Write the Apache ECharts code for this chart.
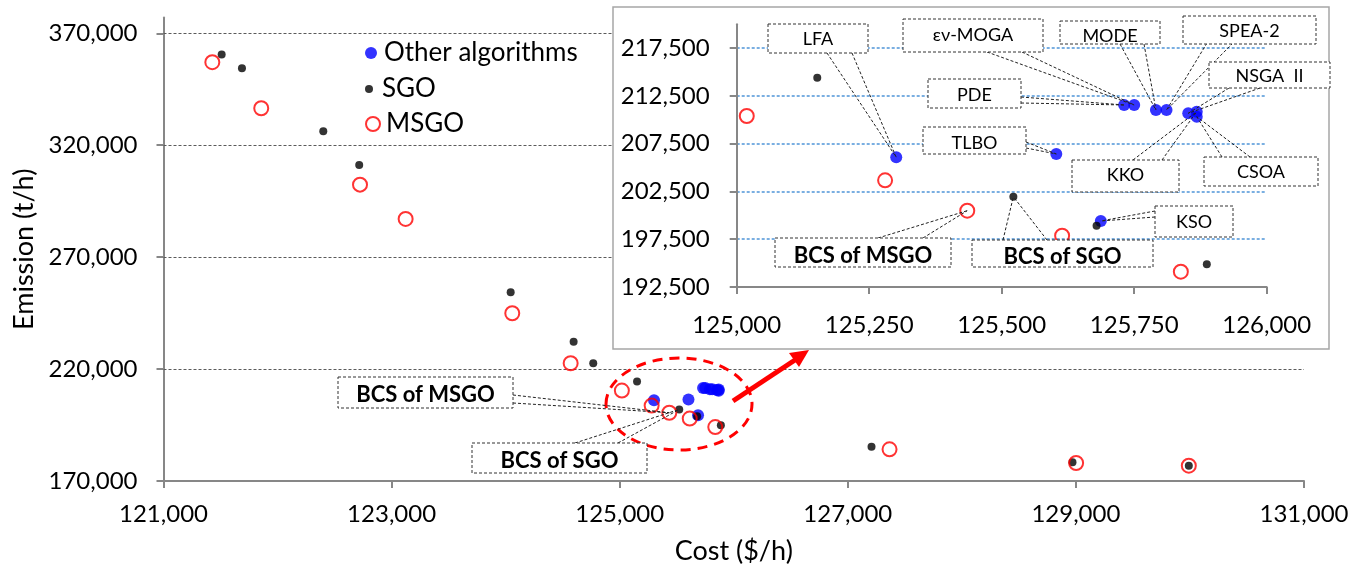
<!DOCTYPE html>
<html><head><meta charset="utf-8">
<script src="https://cdn.jsdelivr.net/npm/echarts@6/dist/echarts.min.js"></script>
<style>html,body{margin:0;padding:0;background:#fff}#c{width:1365px;height:580px}</style>
</head><body><div id="c"></div>
<script>
// ---------- data ----------
const otherNames = ['LFA', 'TLBO', 'KSO', 'PDE', 'εν-MOGA', 'MODE', 'SPEA-2', 'NSGA II', 'KKO', 'CSOA'];
const otherCost = [125301, 125603, 125687, 125731, 125750, 125791, 125811, 125852, 125868, 125868];
const otherEmission = [206080, 206425, 199410, 211555, 211555, 211032, 211032, 210686, 210854, 210331];

const sgoCost = [121510, 121688, 122401, 122716, 124044, 124596, 124768, 125152, 125522, 125679, 125887, 127208, 128970, 129990];
const sgoEmission = [360470, 354400, 326250, 311190, 254310, 232240, 222590, 214410, 201950, 198920, 194880, 185330, 178360, 176840];

const msgoCost = [121428, 121857, 122723, 123123, 124058, 124570, 125019, 125280, 125435, 125614, 125838, 127366, 129002, 129990];
const msgoEmission = [357070, 336520, 302390, 287060, 244930, 222590, 210400, 203670, 200490, 197870, 194100, 184160, 178040, 176840];

const mainXTicks = [121000, 123000, 125000, 127000, 129000, 131000];
const mainYTicks = [170000, 220000, 270000, 320000, 370000];
const insetXTicks = [125000, 125250, 125500, 125750, 126000];
const insetYTicks = [192500, 197500, 202500, 207500, 212500, 217500];

// ---------- helpers ----------
const zip = (a, b) => a.map((v, i) => [v, b[i]]);
const fmt = v => String(v).replace(/\B(?=(\d{3})+(?!\d))/g, ',');
const FONT = 'Lato';
const AXIS_GREY = '#878787';

const chart = echarts.init(document.getElementById('c'), null, {renderer: 'canvas'});

function axisCommon(ticks, fontSize, margin) {
  return {
    type: 'value',
    axisLine: {show: true, onZero: false, lineStyle: {color: AXIS_GREY, width: 2}},
    axisTick: {show: true, length: 7, customValues: ticks, lineStyle: {color: AXIS_GREY, width: 2}},
    axisLabel: {customValues: ticks, formatter: fmt, fontSize: fontSize, fontFamily: FONT, color: '#000', margin: margin},
    splitLine: {show: false}
  };
}

const mainX = Object.assign(axisCommon(mainXTicks, 24, 21), {
  gridIndex: 0, min: 121000, max: 131000,
  name: 'Cost ($/h)', nameLocation: 'middle', nameGap: 57,
  nameTextStyle: {fontSize: 27, fontFamily: FONT, color: '#000'}
});
const mainY = Object.assign(axisCommon(mainYTicks, 24, 26), {
  gridIndex: 0, min: 170000, max: 377000,
  name: 'Emission (t/h)', nameLocation: 'middle', nameGap: 119,
  nameTextStyle: {fontSize: 27, fontFamily: FONT, color: '#000'}
});
const insetX = Object.assign(axisCommon(insetXTicks, 24, 26), {gridIndex: 1, min: 125000, max: 126000, z: 5});
const insetY = Object.assign(axisCommon(insetYTicks, 24, 27), {gridIndex: 1, min: 192500, max: 220000, z: 5});

const otherStyle = {symbolSize: 12, itemStyle: {color: '#0000ff'}};
const sgoStyle = {symbolSize: 8, itemStyle: {color: '#000000'}};
const msgoStyle = {symbolSize: 14, itemStyle: {color: 'rgba(0,0,0,0)', borderColor: '#ff0000', borderWidth: 2}};

function sc(name, data, style, gi, z) {
  return Object.assign({type: 'scatter', name: name, xAxisIndex: gi, yAxisIndex: gi, data: data, z: z,
    emphasis: {disabled: true}, clip: true}, JSON.parse(JSON.stringify(style)));
}

const series = [
  {type: 'scatter', name: '_mainGrid', xAxisIndex: 0, yAxisIndex: 0, data: [], silent: true,
    markLine: {silent: true, z: 1, symbol: ['none', 'none'], label: {show: false}, animation: false,
      lineStyle: {color: '#5a5a5a', type: [3, 2], width: 1},
      data: mainYTicks.slice(1).map(v => ({yAxis: v}))}},
  sc('Other algorithms', zip(otherCost, otherEmission), otherStyle, 0, 2),
  sc('SGO', zip(sgoCost, sgoEmission), sgoStyle, 0, 3),
  sc('MSGO', zip(msgoCost, msgoEmission), msgoStyle, 0, 4),
  {type: 'scatter', name: '_insetGrid', xAxisIndex: 1, yAxisIndex: 1, data: [], silent: true,
    markLine: {silent: true, z: 4, symbol: ['none', 'none'], label: {show: false}, animation: false,
      lineStyle: {color: '#4f95d8', type: [3, 2], width: 1.6},
      data: insetYTicks.slice(1).map(v => ({yAxis: v}))}},
  sc('Other algorithms', zip(otherCost, otherEmission), otherStyle, 1, 6),
  sc('SGO', zip(sgoCost, sgoEmission), sgoStyle, 1, 7),
  sc('MSGO', zip(msgoCost, msgoEmission), msgoStyle, 1, 8)
];

function lg(name, h, top, style) {
  return {
    data: [{name: name, icon: 'circle', itemStyle: style}],
    left: 365, top: top, orient: 'vertical', padding: 0,
    itemWidth: 16, itemHeight: h, itemGap: 0, selectedMode: false,
    textStyle: {fontSize: 26, fontFamily: FONT, color: '#000'}
  };
}

chart.setOption({
  animation: false,
  backgroundColor: '#ffffff',
  grid: [
    {left: 163.5, right: 61, top: 17.6, bottom: 99},
    {left: 736.7, right: 98.3, top: 24.3, bottom: 293, z: 5}
  ],
  xAxis: [mainX, insetX],
  yAxis: [mainY, insetY],
  legend: [
    lg('Other algorithms', 12, 40, {color: '#0000ff'}),
    lg('SGO', 8, 76, {color: '#000'}),
    lg('MSGO', 14, 111, {color: 'rgba(0,0,0,0)', borderColor: '#ff0000', borderWidth: 2})
  ],
  series: series
});

// ---------- annotations (layout) ----------
const seriesData = {
  other: [otherCost, otherEmission],
  sgo: [sgoCost, sgoEmission],
  msgo: [msgoCost, msgoEmission]
};
const callouts = [
  {text: 'LFA', box: [768, 24, 100, 29], ty: 39, anchors: [[827, 53], [852, 53]], grid: 1, target: ['other', 0]},
  {text: 'εν-MOGA', box: [903, 19, 140, 33], ty: 35, anchors: [[987, 52], [1022, 52]], grid: 1, target: ['other', 4]},
  {text: 'MODE', box: [1060, 21, 100, 23], ty: 36, anchors: [[1120, 44], [1144, 44]], grid: 1, target: ['other', 5]},
  {text: 'SPEA-2', box: [1183, 16, 133, 28], ty: 31.5, anchors: [[1207, 43], [1233, 43]], grid: 1, target: ['other', 6]},
  {text: 'NSGA  II', box: [1209, 62, 121, 26], ty: 76, anchors: [[1229, 88], [1260, 88]], grid: 1, target: ['other', 7]},
  {text: 'PDE', box: [928, 79, 93, 29], ty: 95, anchors: [[1021, 97], [1021, 103]], grid: 1, target: ['other', 3]},
  {text: 'TLBO', box: [923, 127, 103, 27], ty: 143, anchors: [[1026, 142], [1026, 148]], grid: 1, target: ['other', 1]},
  {text: 'KKO', box: [1072, 160, 107, 32], ty: 175.5, anchors: [[1133, 160], [1162, 160]], grid: 1, target: ['other', 8]},
  {text: 'CSOA', box: [1204, 157, 114, 29], ty: 172.5, anchors: [[1222, 157], [1250, 157]], grid: 1, target: ['other', 9]},
  {text: 'KSO', box: [1155, 206, 78, 31], ty: 222.5, anchors: [[1155, 211], [1155, 217]], grid: 1, target: ['other', 2]},
  {text: 'BCS of SGO', bold: true, box: [972, 240, 181, 27], ty: 257, anchors: [[1003, 240], [1047, 240]], grid: 1, target: ['sgo', 8]},
  {text: 'BCS of MSGO', bold: true, box: [775, 238, 176, 29], ty: 256, anchors: [[878, 238], [923, 238]], grid: 1, target: ['msgo', 8]},
  {text: 'BCS of MSGO', bold: true, box: [338, 377, 175, 31], ty: 395, anchors: [[513, 395], [513, 403]], grid: 0, target: ['msgo', 8]},
  {text: 'BCS of SGO', bold: true, box: [472, 443, 175, 30], ty: 461, anchors: [[575, 443], [618, 443]], grid: 0, target: ['sgo', 8]}
];

const graphics = [];
// inset frame
graphics.push({type: 'rect', z: 3, silent: true, shape: {x: 613, y: 7, width: 716, height: 342},
  style: {fill: '#ffffff', stroke: '#a6a6a6', lineWidth: 1.5}});

callouts.forEach(c => {
  const arr = seriesData[c.target[0]];
  const idx = c.target[1];
  const p = chart.convertToPixel({gridIndex: c.grid}, [arr[0][idx], arr[1][idx]]);
  c.anchors.forEach(a => {
    graphics.push({type: 'line', z: 9, silent: true, shape: {x1: a[0], y1: a[1], x2: p[0], y2: p[1]},
      style: {stroke: '#222', lineWidth: 1, lineDash: [3, 2]}});
  });
  graphics.push({type: 'rect', z: 10, silent: true, shape: {x: c.box[0], y: c.box[1], width: c.box[2], height: c.box[3]},
    style: {fill: '#ffffff', stroke: '#333', lineWidth: 1, lineDash: [3, 2]}});
  graphics.push({type: 'text', z: 11, silent: true, x: c.box[0] + c.box[2] / 2, y: c.ty,
    style: {text: c.text, fontSize: c.bold ? 22 : 18, fontWeight: c.bold ? 'bold' : 'normal', fontFamily: FONT,
      fill: '#000', align: 'center', verticalAlign: 'middle'}});
});

// highlight ellipse around the cluster and arrow to the inset
graphics.push({type: 'ellipse', z: 8, silent: true, shape: {cx: 679, cy: 404, rx: 73, ry: 46},
  style: {fill: 'none', stroke: '#ff0000', lineWidth: 3, lineDash: [10, 7]}});
graphics.push({type: 'line', z: 8, silent: true, shape: {x1: 733, y1: 401, x2: 795, y2: 360},
  style: {stroke: '#ff0000', lineWidth: 5}});
graphics.push({type: 'polygon', z: 8, silent: true, shape: {points: [[809, 350], [799, 367], [789, 353]]},
  style: {fill: '#ff0000'}});

chart.setOption({graphic: graphics});
</script>
</body></html>
